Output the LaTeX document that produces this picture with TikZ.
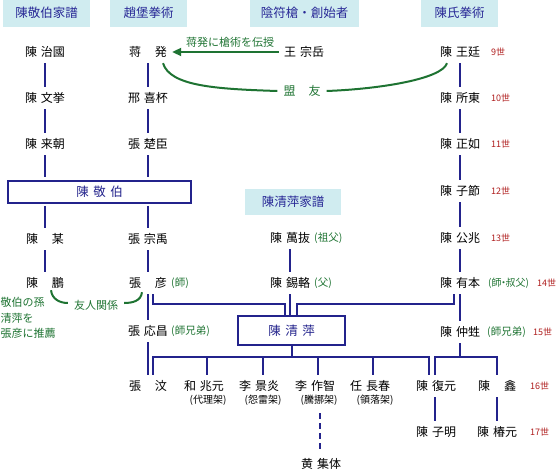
\documentclass[tikz,border=0pt]{standalone}
\usepackage{fontspec}
\setmainfont{Noto Sans CJK JP}
\usetikzlibrary{calc,arrows.meta}
\definecolor{navy}{RGB}{35,35,140}
\definecolor{hdrfill}{RGB}{208,236,240}
\definecolor{hdrtext}{RGB}{40,40,150}
\definecolor{grn}{RGB}{30,115,50}
\definecolor{genred}{RGB}{175,30,30}
\newcommand{\gs}{\hspace{4pt}}
\newcommand{\gl}{\hspace{14pt}}
\tikzset{
  nm/.style={font=\fontsize{12}{12}\selectfont, text=black, inner sep=0pt,
    minimum height=22pt, text height=10.3pt, text depth=1.7pt},
  hdr/.style={fill=hdrfill, text=hdrtext, font=\fontsize{12.5}{12.5}\selectfont,
    inner sep=0pt, minimum height=27pt, text height=10.5pt, text depth=1.5pt},
  ln/.style={draw=navy, line width=2pt},
  bigbox/.style={draw=navy, line width=2pt, fill=white, text=navy, inner sep=0pt,
    font=\fontsize{12.5}{12.5}\selectfont, text height=10.5pt, text depth=1.5pt},
  note/.style={text=grn, font=\fontsize{10.5}{10.5}\selectfont, inner sep=0pt,
    anchor=west, text height=8.8pt, text depth=1.7pt},
  gnote/.style={text=grn, font=\fontsize{11}{11}\selectfont, inner sep=0pt,
    text height=9.3pt, text depth=1.7pt},
  genlab/.style={text=genred, font=\fontsize{9}{9}\selectfont, inner sep=0pt,
    anchor=west, text height=7.5pt, text depth=1pt},
  subl/.style={font=\fontsize{10}{10}\selectfont, text=black, inner sep=0pt,
    minimum height=22pt, text height=8.5pt, text depth=1.5pt},
  grline/.style={draw=grn, line width=2pt},
}
\begin{document}
\begin{tikzpicture}[x=1pt,y=-1pt]
\useasboundingbox (0,0) rectangle (556,470);

% headers
\node[hdr, minimum width=87pt] (h1) at (46.5,13.5) {陳敬伯家譜};
\node[hdr, minimum width=77pt] (h2) at (148.5,13.5) {趙堡拳術};
\node[hdr, minimum width=109pt] (h3) at (304.5,13.5) {陰符槍・創始者};
\node[hdr, minimum width=77pt] (h4) at (459.5,13.5) {陳氏拳術};
\node[hdr, minimum width=96pt, minimum height=26pt] (h5) at (293,202) {陳清萍家譜};

% left column
\node[nm] (a1) at (45,52) {陳\gs 治國};
\node[nm] (a2) at (45,98) {陳\gs 文挙};
\node[nm] (a3) at (45,144) {陳\gs 来朝};
\node[bigbox, minimum width=183pt, minimum height=22pt] (kb) at (99.5,192) {陳\hspace{4.5pt}敬\hspace{4.5pt}伯};
\node[nm] (a4) at (45,239) {陳\gl 某};
\node[nm] (a5) at (45,283) {陳\gl 鵬};

% second column
\node[nm] (b1) at (148,52) {蒋\gl 発};
\node[nm] (b2) at (148,98) {邢\gs 喜杯};
\node[nm] (b3) at (148,144) {張\gs 楚臣};
\node[nm] (b4) at (148,239) {張\gs 宗禹};
\node[nm] (b5) at (148,283) {張\gl 彦};
\node[note] (n1) at (171,283) {(師)};
\node[nm] (b6) at (148,331) {張\gs 応昌};
\node[note] (n2) at (171,331) {(師兄弟)};

% middle
\node[nm] (wz) at (304,52) {王\gs 宗岳};
\node[nm] (m1) at (290,238) {陳\gs 萬抜};
\node[note] (n3) at (314,238) {(祖父)};
\node[nm] (m2) at (290,283) {陳\gs 錫輅};
\node[note] (n4) at (314,283) {(父)};
\node[bigbox, minimum width=107pt, minimum height=29pt] (cp) at (291.5,330.5) {陳\hspace{4.5pt}清\hspace{4.5pt}萍};

% right column
\node[nm] (r1) at (460,52) {陳\gs 王廷};
\node[genlab] at (491,52) {9世};
\node[nm] (r2) at (460,98) {陳\gs 所東};
\node[genlab] at (491,98) {10世};
\node[nm] (r3) at (460,144) {陳\gs 正如};
\node[genlab] at (491,144) {11世};
\node[nm] (r4) at (460,191) {陳\gs 子節};
\node[genlab] at (491,191) {12世};
\node[nm] (r5) at (460,238) {陳\gs 公兆};
\node[genlab] at (491,238) {13世};
\node[nm] (r6) at (460,283) {陳\gs 有本};
\node[note, font=\fontsize{10}{10}\selectfont] (n5) at (488,283) {(師\hspace{-3pt}・\hspace{-3pt}叔父)};
\node[genlab] at (537,283) {14世};
\node[nm] (r7) at (460,332) {陳\gs 仲甡};
\node[note] (n6) at (487,332) {(師兄弟)};
\node[genlab] at (533,332) {15世};

% children row
\node[nm] (c1) at (148,386) {張\gl 汶};
\node[nm] (c2) at (204,386) {和\gs 兆元};
\node[subl] (c2s) at (208,400) {(代理架)};
\node[nm] (c3) at (259,386) {李\gs 景炎};
\node[subl] (c3s) at (263,400) {(怨雷架)};
\node[nm] (c4) at (315,386) {李\gs 作智};
\node[subl] (c4s) at (319,400) {(騰挪架)};
\node[nm] (c5) at (370,386) {任\gs 長春};
\node[subl] (c5s) at (375,400) {(領落架)};
\node[nm] (r8) at (436,386) {陳\gs 復元};
\node[nm] (r9) at (497,386) {陳\gl 鑫};
\node[genlab] at (530,386) {16世};
\node[nm] (r10) at (436,432) {陳\gs 子明};
\node[nm] (r11) at (497,432) {陳\gs 椿元};
\node[genlab] at (530,432) {17世};
\node[nm] (d1) at (321,464) {黄\gs 集体};

% green notes
\node[gnote] (tx) at (230,43) {蒋発に槍術を伝授};
\node[nm, text=grn, inner xsep=6pt] (my) at (302,91) {盟\hspace{13pt}友};
\node[gnote] (fr) at (96,306) {友人関係};
\node[gnote, anchor=west] (g1) at (0.5,303) {敬伯の孫};
\node[gnote, anchor=west] (g2) at (0.5,319) {清萍を};
\node[gnote, anchor=west] (g3) at (0.5,334) {張彦に推薦};

% left column lines
\draw[ln] (a1.south) -- (a2.north);
\draw[ln] (a2.south) -- (a3.north);
\draw[ln, shorten >=3pt] (a3.south) -- (a3.south |- kb.north);
\draw[ln, shorten <=2pt] (a4.north |- kb.south) -- (a4.north);
\draw[ln] (a4.south) -- (a5.north);

% second column lines
\draw[ln] (b1.south) -- (b2.north);
\draw[ln] (b2.south) -- (b3.north);
\draw[ln, shorten >=3pt] (b3.south) -- (b3.south |- kb.north);
\draw[ln, shorten <=2pt] (b4.north |- kb.south) -- (b4.north);
\draw[ln] (b4.south) -- (b5.north);
\draw[ln] (b5.south) -- (b6.north);
\draw[ln] (b6.south) -- (c1.north);

% into Chen Qingping box
\draw[ln] ([xshift=5pt]b5.south) |- ([xshift=-6.5pt,yshift=11pt]cp.north) -- ([xshift=-6.5pt]cp.north);
\draw[ln] (m1.south) -- (m2.north);
\draw[ln] (m2.south) -- (m2.south |- cp.north);
\draw[ln] ([xshift=-6pt]r6.south) |- ([xshift=5.5pt,yshift=11pt]cp.north) -- ([xshift=5.5pt]cp.north);

% out of Chen Qingping box
\coordinate (jc) at (291.5,357);
\draw[ln] (cp.south) -- (jc);
\draw[ln] ($(c1.north)+(5,0)$) |- (jc) -| ($(r8.north)+(-7,0)$);
\foreach \n/\dx in {c2/3,c3/4,c4/3,c5/3}
  \draw[ln] ($(\n.north)+(\dx,0)$) -- ($(\n.north)+(\dx,-18)$);
\draw[ln, dash pattern=on 6pt off 4pt, shorten <=2pt, shorten >=3pt] ($(c4s.south)+(1,0)$) -- ($(d1.north)+(-1,0)$);

% right column lines
\draw[ln] (r1.south) -- (r2.north);
\draw[ln] (r2.south) -- (r3.north);
\draw[ln] (r3.south) -- (r4.north);
\draw[ln] (r4.south) -- (r5.north);
\draw[ln] (r5.south) -- (r6.north);
\draw[ln] (r6.south) -- (r7.north);
\coordinate (jr) at (460,357);
\draw[ln] (r7.south) -- (jr);
\draw[ln] ($(r8.north)+(-1,0)$) |- (jr) -| (r9.north);
\draw[ln] ($(r8.south)+(-1,0)$) -- ($(r10.north)+(-1,0)$);
\draw[ln] (r9.south) -- (r11.north);

% green connectors
\draw[grline, -{Triangle[length=9pt,width=8pt]}, shorten <=5pt, shorten >=5pt] (wz.west) -- (b1.east);
\draw[grline] ([xshift=15pt]b1.south) .. controls (170,86) and (215,89) .. (my.west);
\draw[grline] (my.east) .. controls (380,89) and (442,79) .. ([xshift=-13pt]r1.south);
\draw[grline] ($(a5.south)+(6,-4)$) .. controls +(1,9) and +(-8,0) .. ($(fr.west)+(-6,-3)$);
\draw[grline] ($(fr.east)+(6,-3)$) .. controls +(8,0) and +(-1,9) .. ($(b5.south)+(-6,-2)$);
\end{tikzpicture}
\end{document}
